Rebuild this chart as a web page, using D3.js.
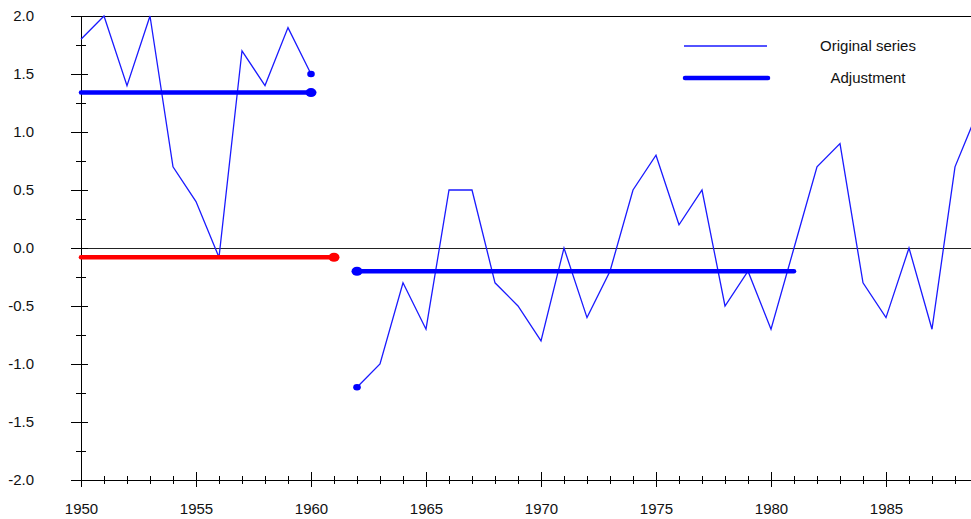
<!DOCTYPE html>
<html>
<head>
<meta charset="utf-8">
<script src="https://cdn.jsdelivr.net/npm/d3@7"></script>
<style>
  html, body { margin: 0; padding: 0; background: #fff; }
  svg { display: block; }
  text { font-family: Arial, "Liberation Sans", sans-serif; }
</style>
</head>
<body>
<svg id="chart" width="971" height="519"></svg>
<script>
// ---- data ----
const years = [1950,1951,1952,1953,1954,1955,1956,1957,1958,1959,1960,1961,1962,1963,1964,1965,1966,1967,1968,1969,1970,1971,1972,1973,1974,1975,1976,1977,1978,1979,1980,1981,1982,1983,1984,1985,1986,1987,1988,1989];
const original = [1.8,2.0,1.4,2.0,0.7,0.4,-0.08,1.7,1.4,1.9,1.5,null,-1.2,-1.0,-0.3,-0.7,0.5,0.5,-0.3,-0.5,-0.8,0.0,-0.6,-0.2,0.5,0.8,0.2,0.5,-0.5,-0.2,-0.7,0.0,0.7,0.9,-0.3,-0.6,0.0,-0.7,0.7,1.18];
const adjStart = [1950, 1950, 1962];
const adjEnd = [1960, 1961, 1981];
const adjValue = [1.34, -0.08, -0.2];
const adjColor = ["#0000ff", "#ff0000", "#0000ff"];
const adjDotAt = ["end", "end", "start"];
const seriesDots = [1960, 1962];
const yMajorTicks = [-2.0,-1.5,-1.0,-0.5,0.0,0.5,1.0,1.5,2.0];
const yMinorTicks = [-1.75,-1.25,-0.75,-0.25,0.25,0.75,1.25,1.75];
const xMajorTicks = [1950,1955,1960,1965,1970,1975,1980,1985];
const xMinorTicks = d3.range(1950, 1989);
const legendLabels = ["Original series", "Adjustment"];

// ---- scales ----
const svg = d3.select("#chart");
const x = d3.scaleLinear().domain([1950, 1985]).range([81, 886]);
const y = d3.scaleLinear().domain([-2, 2]).range([480, 16]);
const rightEdge = 971;

svg.append("defs").append("clipPath").attr("id", "clip")
  .append("rect").attr("x", 0).attr("y", 0).attr("width", rightEdge).attr("height", 519);

// top border and zero line
svg.append("line").attr("x1", 71).attr("x2", rightEdge).attr("y1", y(2)).attr("y2", y(2))
  .attr("stroke", "#000").attr("stroke-width", 1).attr("shape-rendering", "crispEdges");
svg.append("line").attr("x1", 71).attr("x2", rightEdge).attr("y1", y(0)).attr("y2", y(0))
  .attr("stroke", "#222").attr("stroke-width", 1).attr("shape-rendering", "crispEdges");

// y axis
const yAxis = svg.append("g").attr("transform", `translate(${x(1950)},0)`)
  .call(d3.axisLeft(y).tickValues(yMajorTicks).tickSize(10).tickSizeOuter(0).tickPadding(37)
        .tickFormat(d => d.toFixed(1)));
yAxis.select(".domain").attr("stroke", "#000").attr("d", `M0.5,${y(-2)}V${y(2)}`);
yAxis.selectAll(".tick line").attr("x1", 7).attr("x2", -10).attr("stroke", "#000");
yAxis.selectAll(".tick text").attr("font-size", 15).attr("fill", "#111")
  .attr("font-family", "Arial, 'Liberation Sans', sans-serif");
yAxis.selectAll(".minor").data(yMinorTicks).enter().append("line")
  .attr("x1", -5).attr("x2", 5).attr("y1", d => Math.round(y(d)) + 0.5).attr("y2", d => Math.round(y(d)) + 0.5)
  .attr("stroke", "#000");

// x axis
const xAxis = svg.append("g").attr("transform", `translate(0,${y(-2)})`)
  .call(d3.axisBottom(x).tickValues(xMajorTicks).tickSize(7).tickSizeOuter(0).tickPadding(16)
        .tickFormat(d => String(d)));
xAxis.select(".domain").attr("stroke", "#000").attr("d", `M71,0.5H${rightEdge}`);
xAxis.selectAll(".tick line").attr("y1", -8).attr("y2", 7).attr("stroke", "#000");
xAxis.selectAll(".tick text").attr("font-size", 15).attr("fill", "#111")
  .attr("font-family", "Arial, 'Liberation Sans', sans-serif");
xAxis.selectAll(".minor").data(xMinorTicks.filter(d => !xMajorTicks.includes(d))).enter().append("line")
  .attr("x1", d => Math.round(x(d)) + 0.5).attr("x2", d => Math.round(x(d)) + 0.5)
  .attr("y1", -4).attr("y2", 4).attr("stroke", "#000");

// plot area
const plot = svg.append("g").attr("clip-path", "url(#clip)");

const seriesData = years.map((yr, i) => ({ yr, v: original[i] }));
const line = d3.line().defined(d => d.v !== null).x(d => x(d.yr)).y(d => y(d.v));
plot.append("path").datum(seriesData).attr("d", line)
  .attr("fill", "none").attr("stroke", "#1a1aff").attr("stroke-width", 1.3).attr("stroke-linejoin", "miter");

plot.selectAll(".sdot").data(seriesData.filter(d => seriesDots.includes(d.yr))).enter().append("ellipse")
  .attr("cx", d => x(d.yr)).attr("cy", d => y(d.v)).attr("rx", 3.8).attr("ry", 3.2).attr("fill", "#0000ff");

// adjustments
adjStart.forEach((s, i) => {
  const e = adjEnd[i];
  plot.append("line").attr("x1", x(s)).attr("x2", x(e)).attr("y1", y(adjValue[i])).attr("y2", y(adjValue[i]))
    .attr("stroke", adjColor[i]).attr("stroke-width", 4.5).attr("stroke-linecap", "round");
  const dx = adjDotAt[i] === "end" ? x(e) : x(s);
  plot.append("ellipse").attr("cx", dx).attr("cy", y(adjValue[i])).attr("rx", 5.5).attr("ry", 4.5)
    .attr("fill", adjColor[i]);
});

// legend
const legend = svg.append("g");
legend.append("line").attr("x1", 684).attr("x2", 767).attr("y1", 46).attr("y2", 46)
  .attr("stroke", "#1a1aff").attr("stroke-width", 1.3);
legend.append("line").attr("x1", 685).attr("x2", 768).attr("y1", 78).attr("y2", 78)
  .attr("stroke", "#0000ff").attr("stroke-width", 4.5).attr("stroke-linecap", "round");
legend.selectAll(".lt").data(legendLabels).enter().append("text")
  .attr("x", 868).attr("y", (d, i) => i === 0 ? 51 : 83)
  .attr("text-anchor", "middle").attr("font-size", 15).attr("fill", "#111")
  .text(d => d);
</script>
</body>
</html>
